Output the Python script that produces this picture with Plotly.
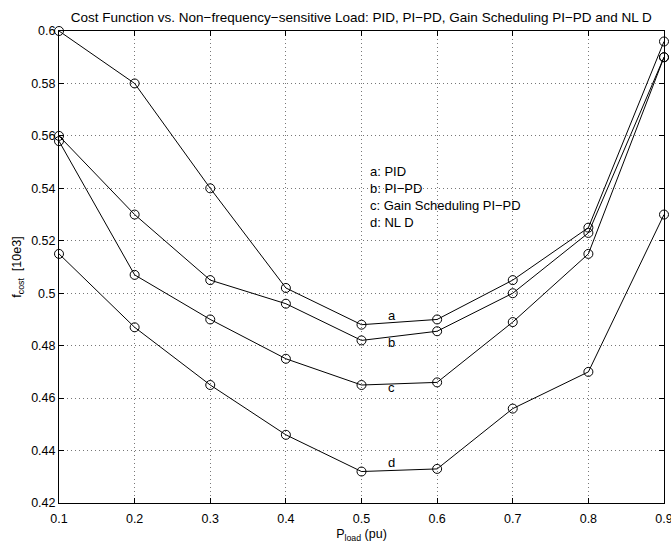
import plotly.graph_objects as go

p_load = [0.1, 0.2, 0.3, 0.4, 0.5, 0.6, 0.7, 0.8, 0.9]
cost_pid = [0.600, 0.580, 0.540, 0.502, 0.488, 0.490, 0.505, 0.525, 0.596]
cost_pipd = [0.560, 0.530, 0.505, 0.496, 0.482, 0.4855, 0.500, 0.523, 0.590]
cost_gs = [0.558, 0.507, 0.490, 0.475, 0.465, 0.466, 0.489, 0.515, 0.590]
cost_nld = [0.515, 0.487, 0.465, 0.446, 0.432, 0.433, 0.456, 0.470, 0.530]

curve_labels = ["a", "b", "c", "d"]
curve_label_x = [0.54, 0.54, 0.54, 0.54]
curve_label_y = [0.4915, 0.4811, 0.4639, 0.4355]

legend_lines = ["a: PID", "b: PI\u2212PD", "c: Gain Scheduling PI\u2212PD", "d: NL D"]
legend_x = 0.508
legend_y = 0.5367

x_ticks = [0.1, 0.2, 0.3, 0.4, 0.5, 0.6, 0.7, 0.8, 0.9]
x_ticktext = ["0.1", "0.2", "0.3", "0.4", "0.5", "0.6", "0.7", "0.8", "0.9"]
y_ticks = [0.42, 0.44, 0.46, 0.48, 0.50, 0.52, 0.54, 0.56, 0.58, 0.60]
y_ticktext = ["0.42", "0.44", "0.46", "0.48", "0.5", "0.52", "0.54", "0.56", "0.58", "0.6"]

FONT = "Liberation Sans, Arial, Helvetica, sans-serif"

fig = go.Figure()
for ys in [cost_pid, cost_pipd, cost_gs, cost_nld]:
    fig.add_trace(go.Scatter(
        x=p_load, y=ys, mode="lines+markers",
        line=dict(color="black", width=1),
        marker=dict(symbol="circle-open", size=9, color="black", line=dict(width=1, color="black")),
        cliponaxis=False, showlegend=False,
    ))

for lab, lx, ly in zip(curve_labels, curve_label_x, curve_label_y):
    fig.add_annotation(x=lx, y=ly, text=lab, showarrow=False,
                       font=dict(family=FONT, size=13, color="black"))

fig.add_annotation(x=legend_x, y=legend_y, xanchor="left", yanchor="middle",
                   text="<br>".join(legend_lines), align="left", showarrow=False,
                   font=dict(family=FONT, size=13, color="black"))

axis_common = dict(
    showline=True, linecolor="black", linewidth=1, mirror="allticks",
    ticks="inside", ticklen=5, tickcolor="black", automargin=False,
    showgrid=True, gridcolor="#777777", gridwidth=1, griddash="1px,3px",
    zeroline=False, tickfont=dict(family=FONT, size=12.5, color="black"),
)

fig.update_xaxes(range=[0.1, 0.9], tickvals=x_ticks, ticktext=x_ticktext,
                 ticklabeloverflow="allow", ticklabelstandoff=4,
                 title=dict(text="P<sub>load</sub> (pu)", font=dict(family=FONT, size=12.5, color="black"), standoff=4),
                 **axis_common)
fig.update_yaxes(range=[0.42, 0.60], tickvals=y_ticks, ticktext=y_ticktext,
                 title=dict(text="f<sub>cost</sub>  [10e3]", font=dict(family=FONT, size=12.5, color="black"), standoff=6),
                 **axis_common)

fig.update_layout(
    width=671, height=547,
    margin=dict(l=59, r=7, t=31, b=44),
    paper_bgcolor="white", plot_bgcolor="white",
    title=dict(text="Cost Function vs. Non\u2212frequency\u2212sensitive Load: PID, PI\u2212PD, Gain Scheduling PI\u2212PD and NL D",
               x=0.5385, xanchor="center", y=1 - 17 / 547, yanchor="middle", automargin=False,
               font=dict(family=FONT, size=13.5, color="black")),
    font=dict(family=FONT, size=12.5, color="black"),
)

fig.write_html("out.html")
